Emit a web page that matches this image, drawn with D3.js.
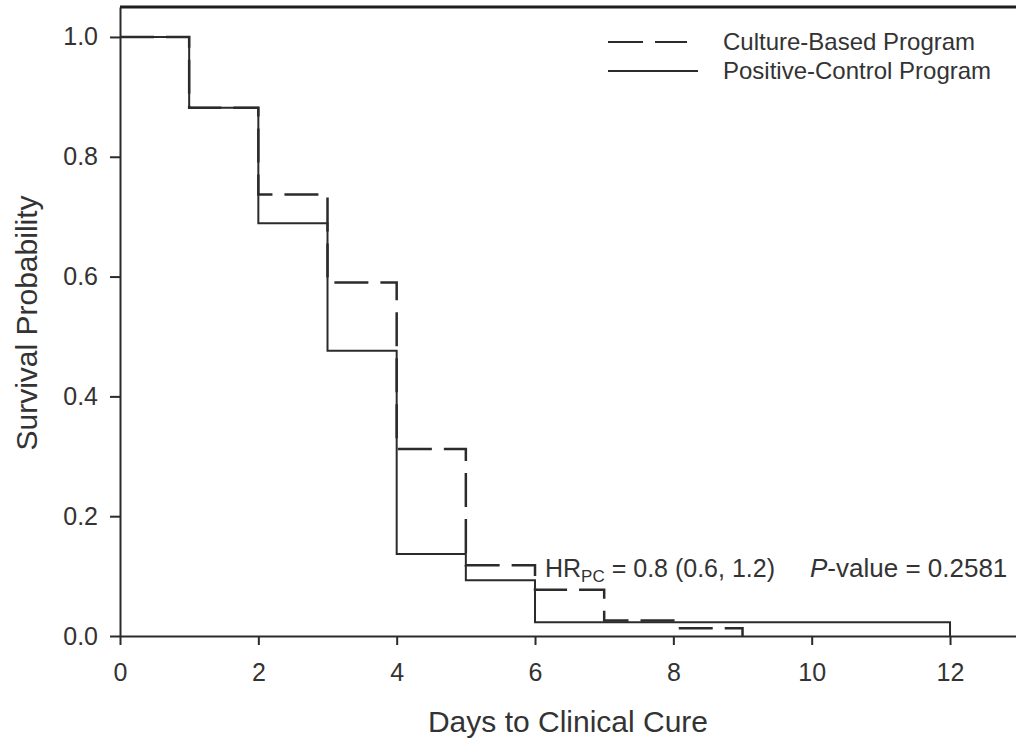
<!DOCTYPE html>
<html>
<head>
<meta charset="utf-8">
<script src="https://cdn.jsdelivr.net/npm/d3@7"></script>
<style>
    body { margin: 0; background: #fff; }
    svg { display: block; font-family: 'Liberation Sans', Arial, sans-serif; }
</style>
</head>
<body>
<svg id="chart" width="1016" height="741"></svg>
<script>
const WIDTH = 1016;
const HEIGHT = 741;
const INK = '#2b2b2b';

// Kaplan-Meier steps
const cultureDays = [0, 1, 2, 3, 4, 5, 6, 7, 8, 9];
const cultureSurvival = [1.0, 0.882, 0.737, 0.590, 0.312, 0.118, 0.077, 0.026, 0.013, 0];
const controlDays = [0, 1, 2, 3, 4, 5, 6, 12];
const controlSurvival = [1.0, 0.882, 0.689, 0.476, 0.137, 0.093, 0.023, 0];

const seriesNames = ['Culture-Based Program', 'Positive-Control Program'];
const xTicks = [0, 2, 4, 6, 8, 10, 12];
const yTicks = [0, 0.2, 0.4, 0.6, 0.8, 1.0];
const hrLabel = { main: 'HR', sub: 'PC', rest: ' = 0.8 (0.6, 1.2)' };
const pLabel = { italic: 'P', rest: '-value = 0.2581' };

const svg = d3.select('#chart');

const x = d3
    .scaleLinear()
    .domain([0, 13])
    .range([120, 1019.2]);
const y = d3
    .scaleLinear()
    .domain([0, 1.05])
    .range([636, 7]);

const xAxis = d3
    .axisBottom(x)
    .tickValues(xTicks)
    .tickFormat(d3.format('d'))
    .tickSize(9)
    .tickPadding(18)
    .tickSizeOuter(0);
const yAxis = d3
    .axisLeft(y)
    .tickValues(yTicks)
    .tickFormat(d3.format('.1f'))
    .tickSize(10)
    .tickPadding(12)
    .tickSizeOuter(0);

const styleAxis = (g) => {
    g.select('path.domain').attr('stroke', INK).attr('stroke-width', 2);
    g.selectAll('.tick line').attr('stroke', INK).attr('stroke-width', 2);
    g.selectAll('.tick text')
        .attr('fill', '#333')
        .style('font-size', '25px')
        .style('font-family', "'Liberation Sans', Arial, sans-serif");
};

svg
    .append('g')
    .attr('class', 'x axis')
    .attr('transform', `translate(0,${y(0)})`)
    .call(xAxis)
    .call(styleAxis);

svg
    .append('g')
    .attr('class', 'y axis')
    .attr('transform', `translate(${x(0)},0)`)
    .call(yAxis)
    .call(styleAxis);

// top frame line
svg.append('line')
    .attr('x1', x(0))
    .attr('x2', WIDTH)
    .attr('y1', y(1.05))
    .attr('y2', y(1.05))
    .attr('stroke', '#1e1e1e')
    .attr('stroke-width', 3);

const step = d3
    .line()
    .x((d) => x(d[0]))
    .y((d) => y(d[1]))
    .curve(d3.curveStepAfter);

svg.append('path')
    .datum(d3.zip(controlDays, controlSurvival))
    .attr('d', step)
    .attr('fill', 'none')
    .attr('stroke', INK)
    .attr('stroke-width', 2);

svg.append('path')
    .datum(d3.zip(cultureDays, cultureSurvival))
    .attr('d', step)
    .attr('fill', 'none')
    .attr('stroke', INK)
    .attr('stroke-width', 2.5)
    .attr('stroke-dasharray', '34,12');

// legend
const legend = svg.append('g').attr('class', 'legend');
const legendRows = [
    { name: seriesNames[0], y: 42, x2: 687, dash: '35,12' },
    { name: seriesNames[1], y: 71, x2: 698, dash: null },
];

legendRows.forEach((row) => {
    legend.append('line')
        .attr('x1', 608)
        .attr('x2', row.x2)
        .attr('y1', row.y)
        .attr('y2', row.y)
        .attr('stroke', INK)
        .attr('stroke-width', 2)
        .attr('stroke-dasharray', row.dash);
    legend.append('text')
        .attr('x', 723)
        .attr('y', row.y + 8)
        .attr('fill', '#333')
        .style('font-size', '24px')
        .text(row.name);
});

// annotations
const hr = svg.append('text')
    .attr('x', 545)
    .attr('y', 577)
    .attr('fill', '#333')
    .style('font-size', '25px');
hr.append('tspan').text(hrLabel.main);
hr.append('tspan').attr('dy', 5).style('font-size', '17px').text(hrLabel.sub);
hr.append('tspan').attr('dy', -5).text(hrLabel.rest);

const pv = svg.append('text')
    .attr('x', 810)
    .attr('y', 577)
    .attr('fill', '#333')
    .style('font-size', '26px');
pv.append('tspan').style('font-style', 'italic').text(pLabel.italic);
pv.append('tspan').text(pLabel.rest);

// axis titles
svg.append('text')
    .attr('x', 568)
    .attr('y', 732)
    .attr('text-anchor', 'middle')
    .attr('fill', '#333')
    .style('font-size', '30px')
    .text('Days to Clinical Cure');

svg.append('text')
    .attr('transform', 'translate(37,323) rotate(-90)')
    .attr('text-anchor', 'middle')
    .attr('fill', '#333')
    .style('font-size', '30px')
    .text('Survival Probability');
</script>
</body>
</html>
